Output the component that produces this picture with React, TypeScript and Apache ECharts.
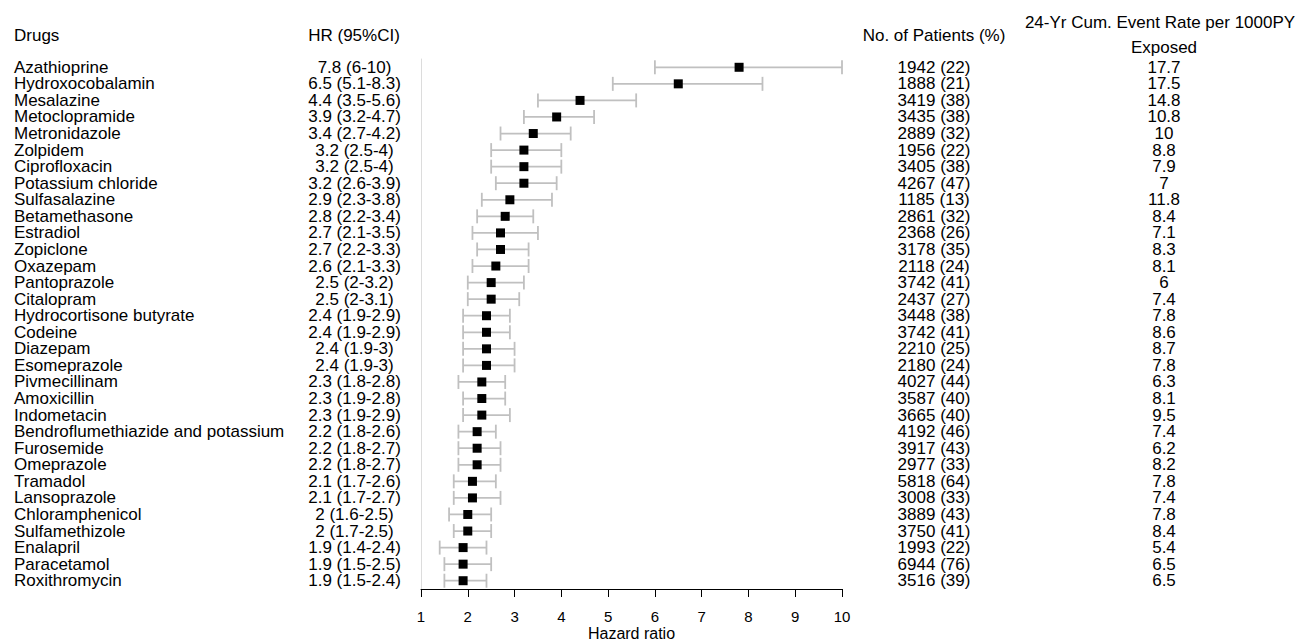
import { useEffect, useRef } from "react";
import * as echarts from "echarts";

const drugs = [
  "Azathioprine", "Hydroxocobalamin", "Mesalazine", "Metoclopramide", "Metronidazole",
  "Zolpidem", "Ciprofloxacin", "Potassium chloride", "Sulfasalazine", "Betamethasone",
  "Estradiol", "Zopiclone", "Oxazepam", "Pantoprazole", "Citalopram",
  "Hydrocortisone butyrate", "Codeine", "Diazepam", "Esomeprazole", "Pivmecillinam",
  "Amoxicillin", "Indometacin", "Bendroflumethiazide and potassium", "Furosemide", "Omeprazole",
  "Tramadol", "Lansoprazole", "Chloramphenicol", "Sulfamethizole", "Enalapril",
  "Paracetamol", "Roxithromycin",
];
const hr = [7.8, 6.5, 4.4, 3.9, 3.4, 3.2, 3.2, 3.2, 2.9, 2.8, 2.7, 2.7, 2.6, 2.5, 2.5, 2.4, 2.4, 2.4, 2.4, 2.3, 2.3, 2.3, 2.2, 2.2, 2.2, 2.1, 2.1, 2, 2, 1.9, 1.9, 1.9];
const ciLow = [6, 5.1, 3.5, 3.2, 2.7, 2.5, 2.5, 2.6, 2.3, 2.2, 2.1, 2.2, 2.1, 2, 2, 1.9, 1.9, 1.9, 1.9, 1.8, 1.9, 1.9, 1.8, 1.8, 1.8, 1.7, 1.7, 1.6, 1.7, 1.4, 1.5, 1.5];
const ciHigh = [10, 8.3, 5.6, 4.7, 4.2, 4, 4, 3.9, 3.8, 3.4, 3.5, 3.3, 3.3, 3.2, 3.1, 2.9, 2.9, 3, 3, 2.8, 2.8, 2.9, 2.6, 2.7, 2.7, 2.6, 2.7, 2.5, 2.5, 2.4, 2.5, 2.4];
const patients = [1942, 1888, 3419, 3435, 2889, 1956, 3405, 4267, 1185, 2861, 2368, 3178, 2118, 3742, 2437, 3448, 3742, 2210, 2180, 4027, 3587, 3665, 4192, 3917, 2977, 5818, 3008, 3889, 3750, 1993, 6944, 3516];
const patientPct = [22, 21, 38, 38, 32, 22, 38, 47, 13, 32, 26, 35, 24, 41, 27, 38, 41, 25, 24, 44, 40, 40, 46, 43, 33, 64, 33, 43, 41, 22, 76, 39];
const eventRate = [17.7, 17.5, 14.8, 10.8, 10, 8.8, 7.9, 7, 11.8, 8.4, 7.1, 8.3, 8.1, 6, 7.4, 7.8, 8.6, 8.7, 7.8, 6.3, 8.1, 9.5, 7.4, 6.2, 8.2, 7.8, 7.4, 7.8, 8.4, 5.4, 6.5, 6.5];
const xTicks = { min: 1, max: 10, interval: 1 };

const FONT = '"Liberation Sans", Arial, sans-serif';

export default function App() {
  const ref = useRef<HTMLDivElement>(null);
  useEffect(() => {
    if (!ref.current) return;
    const chart = echarts.init(ref.current, null, { renderer: "svg" });
    const hrLabels = hr.map((v, i) => `${v} (${ciLow[i]}-${ciHigh[i]})`);
    const patLabels = patients.map((v, i) => `${v} (${patientPct[i]})`);
    const rateLabels = eventRate.map((v) => `${v}`);
    const idx = drugs.map((_, i) => i);

    const textAxis = (data: string[], position: string, margin: number, align: string, extra: any = {}) => ({
      type: "category",
      data,
      inverse: true,
      position,
      axisLine: { show: false },
      axisTick: { show: false },
      splitLine: { show: false },
      axisLabel: {
        interval: 0,
        margin,
        align,
        fontSize: 17,
        lineHeight: 16,
        color: "#000",
        fontFamily: FONT,
      },
      ...extra,
    });

    const head = (text: string, x: number, y: number, align: string) => ({
      type: "text",
      x,
      y,
      style: {
        text,
        fill: "#000",
        font: `17px ${FONT}`,
        align,
        verticalAlign: "middle",
      },
    });

    chart.setOption({
      animation: false,
      backgroundColor: "#fff",
      textStyle: { fontFamily: FONT },
      grid: {
        left: 421,
        right: 470,
        top: 59,
        bottom: 52,
        containLabel: false,
        outerBoundsMode: "none",
      },
      xAxis: {
        type: "value",
        min: xTicks.min,
        max: xTicks.max,
        interval: xTicks.interval,
        splitLine: { show: false },
        axisLine: { show: true, lineStyle: { color: "#000", width: 1 } },
        axisTick: { show: true, length: 8, lineStyle: { color: "#000", width: 1 } },
        axisLabel: { fontSize: 15, lineHeight: 15, color: "#000", margin: 20, fontFamily: FONT },
        name: "Hazard ratio",
        nameLocation: "middle",
        nameGap: 36,
        nameMoveOverlap: false,
        nameTextStyle: { fontSize: 16, lineHeight: 16, color: "#000", fontFamily: FONT },
      },
      yAxis: [
        textAxis(drugs, "left", 407, "left", {
          axisLine: { show: true, lineStyle: { color: "#dcdcdc", width: 1 } },
        }),
        textAxis(hrLabels, "left", 66.5, "center"),
        textAxis(patLabels, "right", 92, "center"),
        textAxis(rateLabels, "right", 322, "center"),
      ],
      graphic: [
        head("Drugs", 14, 35, "left"),
        head("HR (95%CI)", 354, 35, "center"),
        head("No. of Patients (%)", 934, 35, "center"),
        head("24-Yr Cum. Event Rate per 1000PY", 1160, 22, "center"),
        head("Exposed", 1164, 47, "center"),
      ],
      series: [
        {
          type: "custom",
          xAxisIndex: 0,
          yAxisIndex: 0,
          data: idx.map((i) => [i, ciLow[i], ciHigh[i]]),
          encode: { x: [1, 2], y: 0 },
          renderItem: (params: any, api: any) => {
            const y = api.value(0);
            const p1 = api.coord([api.value(1), y]);
            const p2 = api.coord([api.value(2), y]);
            const h = 7;
            const style = { stroke: "#c0c0c0", lineWidth: 1.8, fill: "none" };
            return {
              type: "group",
              children: [
                { type: "line", shape: { x1: p1[0], y1: p1[1], x2: p2[0], y2: p2[1] }, style },
                { type: "line", shape: { x1: p1[0], y1: p1[1] - h, x2: p1[0], y2: p1[1] + h }, style },
                { type: "line", shape: { x1: p2[0], y1: p2[1] - h, x2: p2[0], y2: p2[1] + h }, style },
              ],
            };
          },
          z: 2,
        },
        {
          type: "scatter",
          xAxisIndex: 0,
          yAxisIndex: 0,
          symbol: "rect",
          symbolSize: 9,
          itemStyle: { color: "#000", opacity: 1 },
          data: idx.map((i) => [hr[i], i]),
          z: 3,
        },
      ],
    });
    return () => chart.dispose();
  }, []);
  return (
    <div
      ref={ref}
      style={{ position: "absolute", left: 0, top: 0, width: 1312, height: 641 }}
    />
  );
}
